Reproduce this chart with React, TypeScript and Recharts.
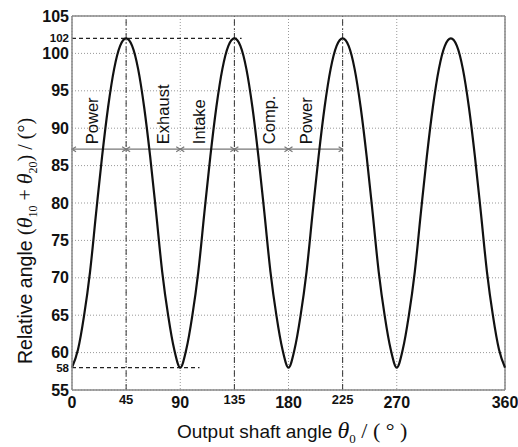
import React from "react";
import {
  LineChart,
  Line,
  XAxis,
  YAxis,
  CartesianGrid,
  ReferenceLine,
  ReferenceDot,
} from "recharts";

// output shaft angle (deg) and the relative angle
const shaftAngle = [
  0, 5, 10, 15, 20, 25, 30, 35, 40, 45, 50, 55, 60, 65, 70, 75, 80, 85,
  90, 95, 100, 105, 110, 115, 120, 125, 130, 135, 140, 145, 150, 155, 160, 165, 170, 175,
  180, 185, 190, 195, 200, 205, 210, 215, 220, 225, 230, 235, 240, 245, 250, 255, 260, 265,
  270, 275, 280, 285, 290, 295, 300, 305, 310, 315, 320, 325, 330, 335, 340, 345, 350, 355,
  360,
];
const relativeAngle = [
  58, 60.4, 64.9, 70.8, 78.6, 86.2, 92.8, 97.9, 101, 102, 101, 97.9, 92.8, 86.2, 78.6, 70.8, 64.9, 60.4,
  58, 60.4, 64.9, 70.8, 78.6, 86.2, 92.8, 97.9, 101, 102, 101, 97.9, 92.8, 86.2, 78.6, 70.8, 64.9, 60.4,
  58, 60.4, 64.9, 70.8, 78.6, 86.2, 92.8, 97.9, 101, 102, 101, 97.9, 92.8, 86.2, 78.6, 70.8, 64.9, 60.4,
  58, 60.4, 64.9, 70.8, 78.6, 86.2, 92.8, 97.9, 101, 102, 101, 97.9, 92.8, 86.2, 78.6, 70.8, 64.9, 60.4,
  58,
];

const xTicks = [0, 45, 90, 135, 180, 225, 270, 360];
const yTicks = [55, 60, 65, 70, 75, 80, 85, 90, 95, 100, 105];
const dashDotAt = [45, 135, 225];

// stroke phases along the arrow row
const phaseStart = [0, 45, 90, 135, 180];
const phaseEnd = [45, 90, 135, 180, 225];
const phaseNames = ["Power", "Exhaust", "Intake", "Comp.", "Power"];
const phaseLabelAt = [16.6, 75.6, 106, 164, 194.5];
const arrowLevel = 87.2;

const maxAngle = 102;
const maxLineEnd = 141;
const minAngle = 58;
const minLineEnd = 106;

const data = shaftAngle.map((x, i) => ({ x, y: relativeAngle[i] }));

const SANS = "'Liberation Sans', Arial, sans-serif";
const SERIF = "'Liberation Serif', 'Times New Roman', serif";

const XTick = (p: any) => {
  const v = p.payload.value;
  const small = v === 45 || v === 135 || v === 225;
  return (
    <text
      x={p.x}
      y={p.y + (small ? 14 : 18)}
      textAnchor="middle"
      fontFamily={SANS}
      fontSize={small ? 13 : 16}
      fontWeight="bold"
      fill="#111"
    >
      {v}
    </text>
  );
};

const YTick = (p: any) => (
  <text
    x={p.x}
    y={p.y + 5.5}
    textAnchor="end"
    fontFamily={SANS}
    fontSize={16}
    fontWeight="bold"
    fill="#111"
  >
    {p.payload.value}
  </text>
);

const limitLine = (label: number) => (p: any) => (
  <g>
    <line x1={p.x1} y1={p.y1} x2={p.x2} y2={p.y2} stroke="#222" strokeWidth={1.2} strokeDasharray="4 3" />
    <text
      x={p.x1 - 3}
      y={p.y1 + 4}
      textAnchor="end"
      fontFamily={SANS}
      fontSize={11.5}
      fontWeight="bold"
      fill="#111"
    >
      {label}
    </text>
  </g>
);

const arrowShape = (p: any) => {
  const y = p.y1;
  const a = p.x1;
  const b = p.x2;
  return (
    <g stroke="#777" strokeWidth={1.2} fill="none">
      <line x1={a} y1={y} x2={b} y2={y} />
      <polyline points={`${a + 4},${y - 2.5} ${a},${y} ${a + 4},${y + 2.5}`} />
      <polyline points={`${b - 4},${y - 2.5} ${b},${y} ${b - 4},${y + 2.5}`} />
    </g>
  );
};

const phaseLabel = (name: string) => (p: any) => (
  <text
    x={p.cx}
    y={p.cy - 5}
    transform={`rotate(-90, ${p.cx}, ${p.cy - 5})`}
    dy="0.36em"
    textAnchor="start"
    fontFamily={SANS}
    fontSize={16.5}
    fill="#111"
  >
    {name}
  </text>
);

const XLabel = () => (
  <text x={177} y={438} fontFamily={SANS} fontSize={19} fill="#111">
    Output shaft angle{" "}
    <tspan fontFamily={SERIF} fontStyle="italic" fontSize={24}>θ</tspan>
    <tspan fontFamily={SERIF} fontSize={13} dy={5}>0</tspan>
    <tspan fontFamily={SERIF} fontSize={22} dy={-5}>{" / ( ° )"}</tspan>
  </text>
);

const YLabel = () => (
  <text
    x={32}
    y={364}
    transform="rotate(-90, 32, 364)"
    fontFamily={SANS}
    fontSize={19.5}
    fill="#111"
  >
    {"Relative angle "}
    <tspan fontFamily={SERIF} fontSize={20}>(</tspan>
    <tspan fontFamily={SERIF} fontStyle="italic" fontSize={22}>θ</tspan>
    <tspan fontFamily={SERIF} fontSize={12} dy={5}>10</tspan>
    <tspan fontFamily={SERIF} fontSize={20} dy={-5}>{" + "}</tspan>
    <tspan fontFamily={SERIF} fontStyle="italic" fontSize={22}>θ</tspan>
    <tspan fontFamily={SERIF} fontSize={12} dy={5}>20</tspan>
    <tspan fontFamily={SERIF} fontSize={20} dy={-5}>{") / (°)"}</tspan>
  </text>
);

export default function App() {
  return (
    <div style={{ position: "absolute", left: 0, top: 0, background: "#fff" }}>
      <LineChart
        width={518}
        height={447}
        data={data}
        margin={{ top: 16, right: 13, left: 0, bottom: 0 }}
      >
        <CartesianGrid stroke="#999" strokeDasharray="1 2" />
        <XAxis
          type="number"
          dataKey="x"
          domain={[0, 360]}
          ticks={xTicks}
          interval={0}
          height={57}
          tickLine={false}
          tickSize={0}
          tickMargin={0}
          axisLine={{ stroke: "#888", strokeWidth: 1.5 }}
          tick={<XTick />}
          label={{ content: () => <XLabel /> }}
        />
        <YAxis
          type="number"
          domain={[55, 105]}
          ticks={yTicks}
          interval={0}
          width={72}
          tickLine={false}
          tickSize={0}
          tickMargin={3}
          axisLine={{ stroke: "#888", strokeWidth: 1.5 }}
          tick={<YTick />}
          label={{ content: () => <YLabel /> }}
        />
        <ReferenceLine y={105} stroke="#888" strokeWidth={1.5} />
        <ReferenceLine x={360} stroke="#888" strokeWidth={1.5} />
        {dashDotAt.map((v) => (
          <ReferenceLine key={`dd${v}`} x={v} stroke="#333" strokeWidth={1} strokeDasharray="6 3 1.5 3" />
        ))}
        <ReferenceLine
          segment={[{ x: 0, y: maxAngle }, { x: maxLineEnd, y: maxAngle }]}
          shape={limitLine(maxAngle)}
        />
        <ReferenceLine
          segment={[{ x: 0, y: minAngle }, { x: minLineEnd, y: minAngle }]}
          shape={limitLine(minAngle)}
        />
        {phaseStart.map((s, i) => (
          <ReferenceLine
            key={`ar${i}`}
            segment={[{ x: s, y: arrowLevel }, { x: phaseEnd[i], y: arrowLevel }]}
            shape={arrowShape}
          />
        ))}
        {phaseNames.map((n, i) => (
          <ReferenceDot
            key={`ph${i}`}
            x={phaseLabelAt[i]}
            y={arrowLevel}
            r={0}
            shape={phaseLabel(n)}
          />
        ))}
        <Line
          type="monotone"
          dataKey="y"
          stroke="#111"
          strokeWidth={2.2}
          dot={false}
          isAnimationActive={false}
        />
      </LineChart>
    </div>
  );
}
